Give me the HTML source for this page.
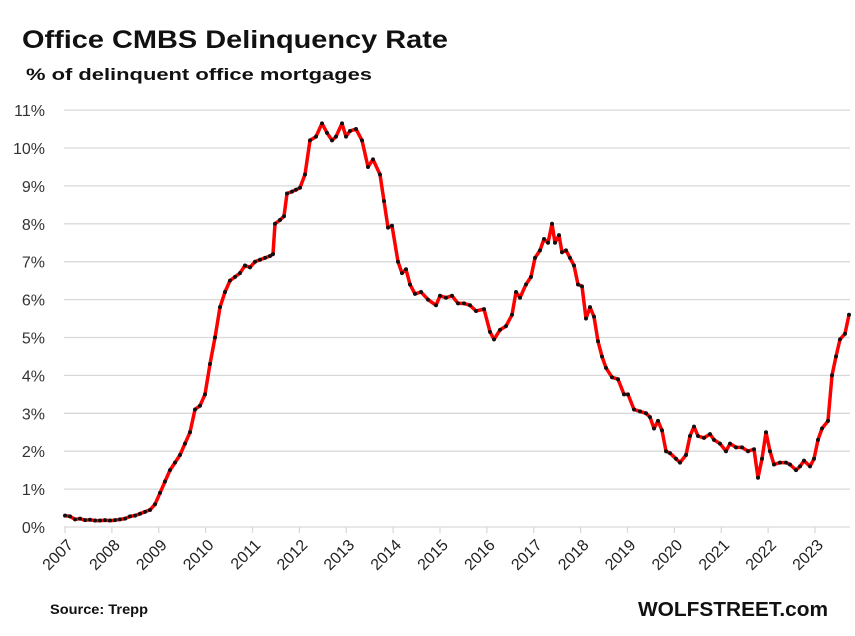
<!DOCTYPE html>
<html><head><meta charset="utf-8"><style>
body{margin:0;background:#fff;}
svg{display:block;font-family:"Liberation Sans",sans-serif;}
</style></head><body>
<svg id="s" width="855" height="636" viewBox="0 0 855 636" xmlns="http://www.w3.org/2000/svg">
<rect width="855" height="636" fill="#fff"/>
<text x="22" y="48" font-size="25" font-weight="bold" fill="#111" textLength="426" lengthAdjust="spacingAndGlyphs">Office CMBS Delinquency  Rate</text>
<text x="26" y="80" font-size="17" font-weight="bold" fill="#111" textLength="346" lengthAdjust="spacingAndGlyphs">% of delinquent office mortgages</text>
<g id="grid"></g>
<g id="xl"></g>
<polyline id="ln" fill="none" stroke="#ff0000" stroke-width="3.5" stroke-linejoin="round"/>
<g id="dots"></g>
<text x="50" y="614" font-size="14" font-weight="bold" fill="#111" textLength="98" lengthAdjust="spacingAndGlyphs">Source: Trepp</text>
<text x="638" y="616" font-size="20" font-weight="bold" fill="#111" textLength="190" lengthAdjust="spacingAndGlyphs">WOLFSTREET.com</text>
</svg>
<script>
var ns="http://www.w3.org/2000/svg";
function el(t,a,p,txt){var e=document.createElementNS(ns,t);for(var k in a)e.setAttribute(k,a[k]);if(txt!==undefined)e.textContent=txt;document.getElementById(p).appendChild(e);return e;}
function Y(v){return 527-v*37.9;}
for(var i=0;i<=11;i++){var y=Y(i);
el('line',{x1:64,x2:850,y1:y,y2:y,stroke:'#d9d9d9','stroke-width':1.3},'grid');
el('text',{x:45,y:y+6,'font-size':16,'text-anchor':'end',fill:'#333'},'grid',i+'%');}
for(var j=0;j<=16;j++){var x=65+j*46.875;
el('line',{x1:x,x2:x,y1:527,y2:533,stroke:'#d9d9d9','stroke-width':1.3},'xl');
var tx=x+9,ty=546;
el('text',{x:tx,y:ty,'font-size':16,'text-anchor':'end',fill:'#222',transform:'rotate(-45 '+tx+' '+ty+')'},'xl',2007+j);}
var d=[65,.3,70,.28,75,.2,80,.22,85,.18,90,.19,95,.17,100,.17,105,.18,110,.17,115,.18,120,.2,125,.22,130,.28,135,.3,140,.35,145,.4,150,.45,155,.6,160,.9,165,1.2,170,1.5,175,1.7,180,1.9,185,2.2,190,2.5,195,3.1,200,3.2,205,3.5,210,4.3,215,5.0,220,5.8,225,6.2,230,6.5,235,6.6,240,6.7,245,6.9,250,6.85,255,7.0,260,7.05,265,7.1,270,7.15,273,7.2,275,8.0,280,8.1,284,8.2,287,8.8,292,8.85,296,8.9,300,8.95,305,9.3,310,10.2,316,10.3,322,10.65,327,10.4,332,10.2,336,10.3,342,10.65,346,10.3,350,10.45,356,10.5,362,10.2,368,9.5,373,9.7,380,9.3,384,8.6,388,7.9,392,7.95,398,7.0,402,6.7,406,6.8,410,6.4,415,6.15,421,6.2,428,6.0,436,5.85,440,6.1,446,6.05,452,6.1,458,5.9,464,5.9,470,5.85,476,5.7,484,5.75,490,5.15,494,4.95,500,5.2,506,5.3,512,5.6,516,6.2,520,6.05,526,6.4,531,6.6,535,7.1,540,7.3,544,7.6,548,7.5,552,8.0,555,7.5,559,7.7,562,7.25,566,7.3,570,7.1,574,6.9,578,6.4,582,6.35,586,5.5,590,5.8,594,5.55,598,4.9,602,4.5,606,4.2,612,3.95,618,3.9,624,3.5,628,3.5,634,3.1,640,3.05,646,3.0,650,2.9,654,2.6,658,2.8,662,2.55,666,2.0,670,1.95,676,1.8,680,1.7,686,1.9,690,2.4,694,2.65,698,2.4,704,2.35,710,2.45,714,2.3,720,2.2,726,2.0,730,2.2,736,2.1,742,2.1,748,2.0,754,2.05,758,1.3,762,1.8,766,2.5,770,2.0,774,1.65,780,1.7,786,1.7,790,1.65,796,1.5,800,1.6,804,1.75,810,1.6,814,1.8,818,2.3,822,2.6,828,2.8,832,4.0,836,4.5,840,4.95,845,5.1,849,5.6];
var pts=[];
for(var k=0;k<d.length;k+=2){var x=d[k],y=Y(d[k+1]);pts.push(x+','+y.toFixed(1));
el('circle',{cx:x,cy:y,r:2,fill:'#111'},'dots');}
document.getElementById('ln').setAttribute('points',pts.join(' '));
</script>
</body></html>
